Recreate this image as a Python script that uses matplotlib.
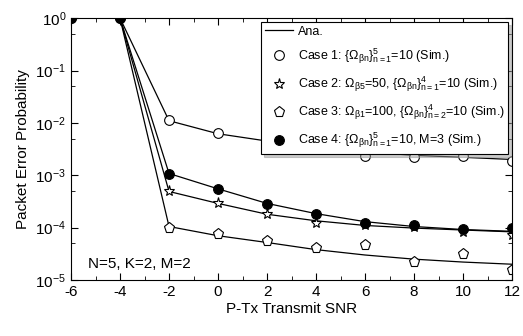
import numpy as np
import matplotlib.pyplot as plt
from matplotlib.ticker import LogLocator, MultipleLocator, NullFormatter

plt.rcParams['font.family'] = ['Liberation Sans', 'DejaVu Sans']
plt.rcParams['mathtext.fontset'] = 'custom'
plt.rcParams['mathtext.rm'] = 'Liberation Sans'
plt.rcParams['mathtext.it'] = 'Liberation Sans'
plt.rcParams['mathtext.default'] = 'regular'
plt.rcParams['axes.unicode_minus'] = False

snr = [-6, -4, -2, 0, 2, 4, 6, 8, 10, 12]

# analytical curves
ana_case1 = [1, 1, 1.1e-2, 6.2e-3, 4.5e-3, 3.5e-3, 2.8e-3, 2.4e-3, 2.2e-3, 2.0e-3]
ana_case2 = [1, 1, 4.9e-4, 2.9e-4, 1.8e-4, 1.35e-4, 1.1e-4, 9.8e-5, 9.0e-5, 8.3e-5]
ana_case3 = [1, 1, 1.05e-4, 7.0e-5, 5.2e-5, 3.8e-5, 3.0e-5, 2.5e-5, 2.2e-5, 2.0e-5]
ana_case4 = [1, 1, 1.08e-3, 5.5e-4, 2.9e-4, 1.85e-4, 1.3e-4, 1.05e-4, 9.2e-5, 8.5e-5]

# simulation points
sim_case1 = [1, 1, 1.15e-2, 6.3e-3, 4.5e-3, 3.3e-3, 2.3e-3, 2.2e-3, 2.3e-3, 1.9e-3]
sim_case2 = [1, 1, 4.9e-4, 2.9e-4, 1.8e-4, 1.24e-4, 1.1e-4, 1.02e-4, 8.3e-5, 7.2e-5]
sim_case3 = [1, 1, 1.0e-4, 7.4e-5, 5.5e-5, 4.1e-5, 4.7e-5, 2.2e-5, 3.2e-5, 1.55e-5]
sim_case4 = [1, 1, 1.08e-3, 5.5e-4, 2.8e-4, 1.8e-4, 1.2e-4, 1.12e-4, 9.5e-5, 1.0e-4]

labels = [
    r'Case 1: $\{\Omega_{\beta n}\}_{n=1}^{5}$=10 (Sim.)',
    r'Case 2: $\Omega_{\beta 5}$=50, $\{\Omega_{\beta n}\}_{n=1}^{4}$=10 (Sim.)',
    r'Case 3: $\Omega_{\beta 1}$=100, $\{\Omega_{\beta n}\}_{n=2}^{4}$=10 (Sim.)',
    r'Case 4: $\{\Omega_{\beta n}\}_{n=1}^{5}$=10, M=3 (Sim.)',
]

fig = plt.figure(figsize=(5.23, 3.36), dpi=100)
ax = fig.add_axes([0.1358, 0.1667, 0.8432, 0.7793])

lw = 0.9
ax.plot(snr, ana_case1, color='k', lw=lw, label='Ana.')
ax.plot(snr, ana_case2, color='k', lw=lw)
ax.plot(snr, ana_case3, color='k', lw=lw)
ax.plot(snr, ana_case4, color='k', lw=lw)

ms = 7
ax.plot(snr, sim_case1, ls='none', marker='o', ms=ms, mfc='white', mec='k', mew=0.8, label=labels[0])
ax.plot(snr, sim_case2, ls='none', marker='*', ms=ms + 1, mfc='white', mec='k', mew=0.8, label=labels[1])
ax.plot(snr, sim_case3, ls='none', marker='p', ms=ms + 1, mfc='white', mec='k', mew=0.8, label=labels[2])
ax.plot(snr, sim_case4, ls='none', marker='o', ms=ms, mfc='k', mec='k', mew=0.8, label=labels[3])

ax.set_yscale('log')
ax.set_xlim(-6, 12)
ax.set_ylim(1e-5, 1)
ax.xaxis.set_major_locator(MultipleLocator(2))
ax.xaxis.set_minor_locator(MultipleLocator(1))
ax.yaxis.set_major_locator(LogLocator(base=10, numticks=10))
ax.yaxis.set_minor_locator(LogLocator(base=10, subs=[5.0], numticks=10))
ax.yaxis.set_minor_formatter(NullFormatter())
ax.tick_params(which='both', direction='in', top=True, right=True, labelsize=11)
ax.tick_params(which='major', length=5)
ax.tick_params(which='minor', length=3)

ax.set_xlabel('P-Tx Transmit SNR', fontsize=11, labelpad=2)
ax.set_ylabel('Packet Error Probability', fontsize=11, labelpad=4)

ax.text(0.039, 0.046, 'N=5, K=2, M=2', transform=ax.transAxes, fontsize=11)

leg = ax.legend(loc='upper right', fontsize=9, fancybox=False, edgecolor='k',
                framealpha=1, shadow={'color': '0.6', 'ox': 2, 'oy': -2},
                handlelength=2.2, handletextpad=0.4, borderaxespad=0.3,
                labelspacing=0.72, borderpad=0.3)
leg.get_frame().set_linewidth(0.8)

fig.savefig('out.png', dpi=100)
